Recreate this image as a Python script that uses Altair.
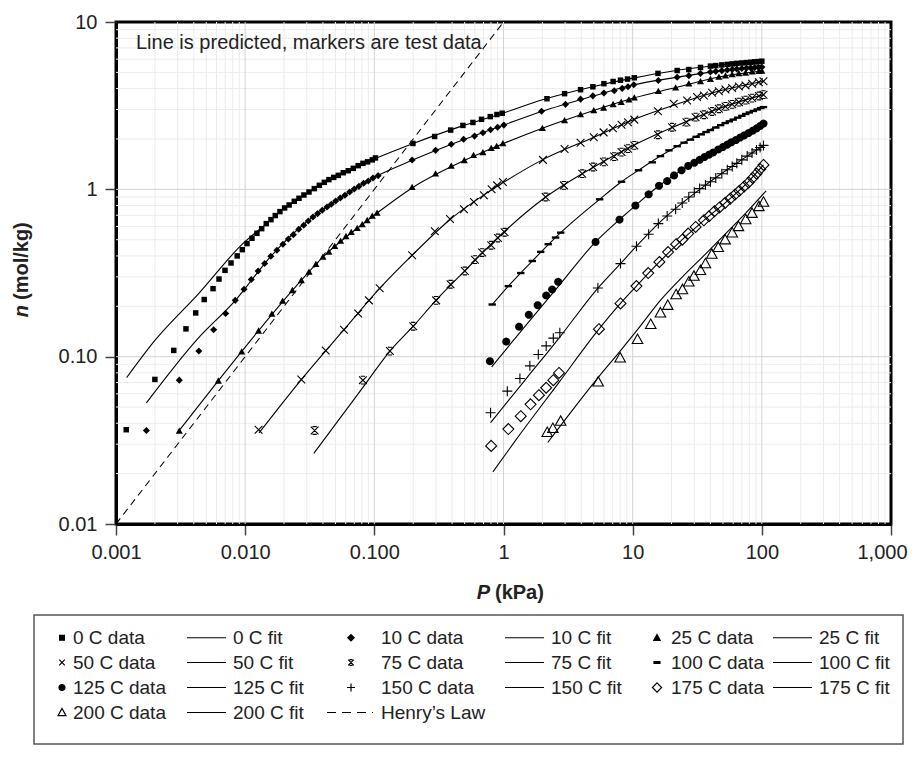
import math
import altair as alt
import pandas as pd

FONT = "Liberation Sans, Arial, Helvetica, sans-serif"
INK = "#222222"

# ---------------- axes / text ----------------
X_TICKS = [0.001, 0.01, 0.1, 1, 10, 100, 1000]
X_TICK_LABELS = ["0.001", "0.010", "0.100", "1", "10", "100", "1,000"]
Y_TICKS = [0.01, 0.1, 1, 10]
Y_TICK_LABELS = ["0.01", "0.10", "1", "10"]
X_GRID_MAJOR = [0.01, 0.1, 1, 10, 100]
Y_GRID_MAJOR = [0.1, 1]
X_GRID_MINOR = [m * 10.0 ** e for e in range(-3, 3) for m in range(2, 10)]
Y_GRID_MINOR = [m * 10.0 ** e for e in range(-2, 1) for m in range(2, 10)]

ANNOTATION = ["Line is predicted, markers are test data"]
X_TITLE_VAR, X_TITLE_UNIT = ["P"], ["(kPa)"]
Y_TITLE_VAR, Y_TITLE_UNIT = ["n"], ["(mol/kg)"]

# ---------------- data ----------------
P_0C = [0.0012, 0.0020, 0.0028, 0.00348, 0.00414, 0.00482, 0.00564, 0.00627, 0.00698, 0.00777, 0.00868, 0.0095,
        0.01033, 0.01129, 0.01234, 0.01342, 0.01457, 0.01584, 0.0171, 0.01858, 0.0202, 0.0219, 0.024, 0.0261,
        0.0285, 0.0312, 0.0343, 0.0375, 0.041, 0.0445, 0.0485, 0.0526, 0.0575, 0.0628, 0.0687, 0.075, 0.0816,
        0.0887, 0.0964, 0.102, 0.199, 0.293, 0.39, 0.485, 0.58, 0.676, 0.79, 0.889, 0.977, 2.17, 2.97, 3.95,
        4.92, 5.99, 7.06, 8.05, 9.12, 10.3, 15.7, 22.1, 27.2, 33.5, 40.0, 44.0, 49.0, 54.0, 59.0, 64.0, 70.0,
        76.0, 82.0, 88.0, 94.0, 100.0]
N_0C = [0.0366, 0.0731, 0.109, 0.1466, 0.1826, 0.2195, 0.255, 0.291, 0.328, 0.363, 0.400, 0.436, 0.474, 0.510,
        0.546, 0.582, 0.624, 0.659, 0.697, 0.736, 0.774, 0.806, 0.848, 0.884, 0.925, 0.964, 1.01, 1.057, 1.101,
        1.143, 1.179, 1.212, 1.257, 1.292, 1.335, 1.385, 1.43, 1.46, 1.50, 1.54, 1.88, 2.07, 2.26, 2.41, 2.51,
        2.62, 2.72, 2.80, 2.85, 3.48, 3.73, 3.94, 4.10, 4.28, 4.41, 4.49, 4.56, 4.64, 4.93, 5.13, 5.20, 5.35,
        5.45, 5.49, 5.54, 5.58, 5.62, 5.66, 5.69, 5.72, 5.75, 5.78, 5.80, 5.83]
P_0C_FIT = [0.00121, 0.002, 0.0044, 0.0095, 0.015, 0.02, 0.03, 0.05, 0.1, 0.2, 0.5, 1, 2, 5, 10, 20, 50, 100]
N_0C_FIT = [0.075, 0.125, 0.24, 0.47, 0.635, 0.77, 0.945, 1.20, 1.52, 1.88, 2.42, 2.86, 3.43, 4.12, 4.62, 5.08,
            5.55, 5.83]

P_10C = [0.00172, 0.00309, 0.00438, 0.0057, 0.00706, 0.00838, 0.0098, 0.01115, 0.0126, 0.01415, 0.0158, 0.0176,
         0.0196, 0.0216, 0.0236, 0.026, 0.0284, 0.0308, 0.0335, 0.0364, 0.0395, 0.043, 0.0464, 0.0502, 0.0545,
         0.0592, 0.0644, 0.0699, 0.076, 0.0826, 0.0897, 0.0976, 0.107, 0.196, 0.298, 0.394, 0.491, 0.597, 0.693,
         0.794, 0.9, 1.007, 1.97, 3.02, 3.95, 4.92, 5.99, 7.2, 8.3, 9.2, 10.2, 15.8, 22.1, 27.2, 33.5, 40, 44,
         49, 54, 59, 64, 70, 76, 82, 88, 94, 100]
N_10C = [0.0362, 0.0724, 0.108, 0.145, 0.181, 0.217, 0.253, 0.289, 0.325, 0.360, 0.398, 0.432, 0.47, 0.505,
         0.536, 0.577, 0.61, 0.647, 0.683, 0.716, 0.749, 0.784, 0.814, 0.852, 0.887, 0.921, 0.964, 1.004, 1.042,
         1.086, 1.121, 1.168, 1.207, 1.496, 1.71, 1.86, 1.99, 2.08, 2.18, 2.27, 2.35, 2.42, 2.93, 3.22, 3.46,
         3.62, 3.76, 3.88, 4.01, 4.10, 4.22, 4.47, 4.68, 4.78, 4.92, 5.02, 5.07, 5.12, 5.17, 5.21, 5.24, 5.27,
         5.30, 5.32, 5.34, 5.36, 5.38]
P_10C_FIT = [0.00172, 0.00425, 0.0084, 0.0158, 0.03, 0.05, 0.1, 0.2, 0.5, 1, 2, 5, 10, 20, 50, 100]
N_10C_FIT = [0.053, 0.127, 0.217, 0.398, 0.64, 0.85, 1.18, 1.5, 1.99, 2.42, 2.93, 3.62, 4.2, 4.62, 5.12, 5.38]

P_25C = [0.00309, 0.0062, 0.0094, 0.0127, 0.0161, 0.0195, 0.0232, 0.0272, 0.0312, 0.0353, 0.04, 0.0445, 0.0493,
         0.0548, 0.0603, 0.0663, 0.0737, 0.0806, 0.0881, 0.0964, 0.105, 0.196, 0.298, 0.394, 0.497, 0.586, 0.693,
         0.803, 0.885, 0.989, 2.0, 2.97, 3.95, 5.0, 5.96, 7.06, 8.15, 9.35, 10.3, 15.8, 21.5, 27.2, 33.5, 40,
         46.5, 52.3, 58.9, 66.4, 74.8, 84.2, 94.9, 100]
N_25C = [0.036, 0.0717, 0.107, 0.1426, 0.18, 0.215, 0.249, 0.286, 0.321, 0.357, 0.394, 0.422, 0.457, 0.491,
         0.524, 0.554, 0.585, 0.616, 0.653, 0.693, 0.722, 1.03, 1.24, 1.38, 1.49, 1.6, 1.66, 1.76, 1.81, 1.88,
         2.32, 2.58, 2.80, 2.96, 3.07, 3.22, 3.32, 3.43, 3.53, 3.86, 4.05, 4.28, 4.41, 4.56, 4.69, 4.77, 4.86,
         4.93, 4.97, 5.04, 5.08, 5.10]
P_25C_FIT = [0.00307, 0.0062, 0.0127, 0.0232, 0.04, 0.0737, 0.105, 0.2, 0.5, 1, 2, 5, 10, 20, 50, 100]
N_25C_FIT = [0.036, 0.072, 0.143, 0.249, 0.394, 0.585, 0.722, 1.03, 1.49, 1.88, 2.32, 2.96, 3.5, 4.0, 4.74, 5.1]

P_50C = [0.0127, 0.0272, 0.042, 0.0582, 0.075, 0.0908, 0.110, 0.196, 0.294, 0.385, 0.494, 0.59, 0.705, 0.809,
         0.893, 0.989, 2.02, 2.97, 3.95, 5.0, 5.96, 7.03, 8.2, 9.2, 10.3, 15.7, 20.8, 26.4, 31.5, 35.6, 41.2,
         46.5, 52.3, 58.9, 66.4, 74.8, 84.2, 94.9, 103]
N_50C = [0.0366, 0.0731, 0.109, 0.145, 0.181, 0.217, 0.256, 0.404, 0.561, 0.665, 0.76, 0.84, 0.921, 1.0, 1.056,
         1.106, 1.50, 1.74, 1.90, 2.05, 2.19, 2.32, 2.43, 2.52, 2.61, 2.93, 3.25, 3.40, 3.56, 3.64, 3.78, 3.86,
         3.95, 4.03, 4.12, 4.18, 4.28, 4.37, 4.43]
P_50C_FIT = [0.0128, 0.0272, 0.0582, 0.11, 0.2, 0.39, 1, 2, 5, 10, 20, 50, 103]
N_50C_FIT = [0.035, 0.073, 0.145, 0.256, 0.41, 0.665, 1.10, 1.50, 2.05, 2.6, 3.15, 3.92, 4.43]

P_75C = [0.0345, 0.0816, 0.132, 0.2, 0.301, 0.389, 0.502, 0.601, 0.684, 0.803, 0.906, 1.02, 2.12, 2.94, 4.07,
         4.94, 5.99, 7.2, 8.2, 9.2, 10.3, 15.7, 20.2, 26.1, 30.7, 35.6, 41.2, 46.5, 52.3, 58.9, 66.4, 74.8, 84.2,
         94.9, 103]
N_75C = [0.0362, 0.0724, 0.108, 0.152, 0.217, 0.271, 0.325, 0.38, 0.419, 0.463, 0.512, 0.554, 0.90, 1.056, 1.24,
         1.36, 1.46, 1.57, 1.67, 1.75, 1.83, 2.12, 2.35, 2.52, 2.70, 2.79, 2.92, 3.03, 3.13, 3.22, 3.32, 3.41,
         3.51, 3.61, 3.68]
P_75C_FIT = [0.034, 0.0816, 0.132, 0.2, 0.3, 0.5, 1, 2, 5, 10, 20, 50, 103]
N_75C_FIT = [0.0264, 0.0655, 0.108, 0.152, 0.217, 0.325, 0.554, 0.87, 1.36, 1.82, 2.33, 3.1, 3.68]

P_100C = [0.818, 1.09, 1.36, 1.67, 1.94, 2.22, 2.53, 2.77, 5.55, 8.2, 11.1, 14.2, 16.4, 19.1, 22.1, 25, 28, 31,
          34, 37, 40, 44, 48, 52, 56, 60, 65, 70, 75, 80, 86, 92, 98, 103]
N_100C = [0.205, 0.264, 0.316, 0.373, 0.423, 0.47, 0.515, 0.551, 0.872, 1.11, 1.30, 1.45, 1.58, 1.71, 1.81, 1.90,
          1.98, 2.06, 2.13, 2.20, 2.26, 2.34, 2.42, 2.49, 2.55, 2.61, 2.68, 2.75, 2.82, 2.88, 2.94, 3.00, 3.06,
          3.10]
P_100C_FIT = [0.81, 1.09, 1.67, 2.77, 5.55, 8.2, 11.1, 16.4, 22.1, 35, 50, 75, 103]
N_100C_FIT = [0.203, 0.264, 0.373, 0.551, 0.872, 1.11, 1.30, 1.58, 1.81, 2.17, 2.46, 2.82, 3.1]

P_125C = [0.785, 1.05, 1.32, 1.57, 1.84, 2.14, 2.38, 2.65, 5.16, 7.91, 10.5, 13.3, 16, 18.5, 20.9, 23.9, 26.9,
          30, 33, 36, 39, 42, 46, 50, 54, 58, 63, 68, 73, 79, 85, 91, 97, 103]
N_125C = [0.094, 0.123, 0.151, 0.178, 0.203, 0.232, 0.252, 0.28, 0.485, 0.659, 0.80, 0.933, 1.05, 1.12, 1.21,
          1.30, 1.38, 1.44, 1.50, 1.56, 1.61, 1.66, 1.73, 1.79, 1.85, 1.91, 1.97, 2.04, 2.10, 2.17, 2.24, 2.31,
          2.39, 2.47]
P_125C_FIT = [0.81, 1.5, 2.65, 5.16, 7.91, 10.5, 16, 26.9, 50, 75, 103]
N_125C_FIT = [0.087, 0.155, 0.262, 0.485, 0.66, 0.80, 1.05, 1.38, 1.80, 2.13, 2.47]

P_150C = [0.794, 1.07, 1.34, 1.60, 1.86, 2.14, 2.43, 2.73, 5.38, 8.05, 10.7, 13.3, 15.8, 18.5, 21.5, 24.2, 27.2,
          30, 33, 36.6, 40, 44, 49, 54, 59, 64, 70, 77, 84, 91, 97, 103]
N_150C = [0.0462, 0.0622, 0.0741, 0.0881, 0.103, 0.116, 0.129, 0.139, 0.257, 0.36, 0.457, 0.539, 0.624, 0.693,
          0.76, 0.828, 0.90, 0.96, 1.01, 1.06, 1.11, 1.17, 1.24, 1.31, 1.37, 1.43, 1.50, 1.58, 1.65, 1.72, 1.78,
          1.83]
P_150C_FIT = [0.794, 1.5, 2.73, 5.38, 8.05, 10.7, 15.8, 24.2, 36.6, 57, 77, 103]
N_150C_FIT = [0.0403, 0.074, 0.131, 0.257, 0.36, 0.457, 0.624, 0.828, 1.06, 1.35, 1.58, 1.83]

P_175C = [0.803, 1.09, 1.36, 1.62, 1.88, 2.14, 2.43, 2.69, 5.48, 8.05, 10.7, 13.2, 16.1, 18.8, 21.7, 24.2, 26.9,
          30.7, 35.6, 39, 43, 47, 52, 57, 62, 67, 73, 79, 85, 91, 97, 103]
N_175C = [0.0293, 0.0369, 0.0441, 0.0519, 0.0589, 0.0652, 0.0724, 0.08, 0.146, 0.208, 0.264, 0.316, 0.368, 0.422,
          0.47, 0.50, 0.544, 0.596, 0.653, 0.69, 0.74, 0.78, 0.83, 0.88, 0.93, 0.98, 1.04, 1.10, 1.17, 1.24, 1.32,
          1.40]
P_175C_FIT = [0.828, 1.24, 2.7, 5.48, 8.05, 10.7, 16.1, 24.2, 35.6, 52, 75, 103]
N_175C_FIT = [0.0205, 0.0316, 0.0705, 0.146, 0.208, 0.264, 0.368, 0.50, 0.653, 0.83, 1.07, 1.40]

P_200C = [2.18, 2.41, 2.77, 5.41, 8.0, 10.9, 13.8, 16.4, 18.7, 21.7, 24.3, 27.2, 29.8, 33.5, 36.6, 41, 46, 52,
          59, 66, 75, 84, 95, 103]
N_200C = [0.0353, 0.0373, 0.0412, 0.0707, 0.0984, 0.127, 0.156, 0.183, 0.203, 0.235, 0.252, 0.28, 0.303, 0.328,
          0.36, 0.41, 0.45, 0.50, 0.55, 0.60, 0.66, 0.72, 0.79, 0.84]
P_200C_FIT = [2.2, 5.4, 8.0, 10.9, 16.4, 24.3, 36.6, 52, 75, 108]
N_200C_FIT = [0.0307, 0.075, 0.108, 0.145, 0.217, 0.30, 0.41, 0.54, 0.72, 0.98]

P_HENRY = [0.001, 1.0]
N_HENRY = [0.01, 10.0]

TEMPS = ["0 C", "10 C", "25 C", "50 C", "75 C", "100 C", "125 C", "150 C", "175 C", "200 C"]
DATA_P = [P_0C, P_10C, P_25C, P_50C, P_75C, P_100C, P_125C, P_150C, P_175C, P_200C]
DATA_N = [N_0C, N_10C, N_25C, N_50C, N_75C, N_100C, N_125C, N_150C, N_175C, N_200C]
FIT_P = [P_0C_FIT, P_10C_FIT, P_25C_FIT, P_50C_FIT, P_75C_FIT, P_100C_FIT, P_125C_FIT, P_150C_FIT, P_175C_FIT,
         P_200C_FIT]
FIT_N = [N_0C_FIT, N_10C_FIT, N_25C_FIT, N_50C_FIT, N_75C_FIT, N_100C_FIT, N_125C_FIT, N_150C_FIT, N_175C_FIT,
         N_200C_FIT]
HENRY_LABEL = "Henry\u2019s Law"

# ---------------- marker styles ----------------
# shape, filled, plot size (px^2), legend half-size (legend units of 5 px)
STYLE = [("square", True, 30, 0.48), ("diamond", True, 50, 0.64), ("triangle", True, 50, 0.64),
         ("cross", False, 60, 0.56), ("asterisk", False, 60, 0.56), ("dash", True, 55, 0.6),
         ("circle", True, 64, 0.6), ("plus", False, 100, 0.8), ("diamond", False, 120, 0.92),
         ("triangle", False, 110, 0.8)]

BASE = {
    "square": [([(-1, -1), (1, -1), (1, 1), (-1, 1)], True)],
    "diamond": [([(0, -1), (1, 0), (0, 1), (-1, 0)], True)],
    "triangle": [([(0, -1), (1, 0.8), (-1, 0.8)], True)],
    "cross": [([(-1, -1), (1, 1)], False), ([(-1, 1), (1, -1)], False)],
    "asterisk": [([(-1, -1), (1, 1)], False), ([(-1, 1), (1, -1)], False),
                 ([(-0.55, -1), (0.55, -1)], False), ([(-0.55, 1), (0.55, 1)], False)],
    "dash": [([(-1, -0.32), (1, -0.32), (1, 0.32), (-1, 0.32)], True)],
    "circle": [([(math.cos(2 * math.pi * k / 24), math.sin(2 * math.pi * k / 24)) for k in range(24)], True)],
    "plus": [([(-1, 0), (1, 0)], False), ([(0, -1), (0, 1)], False)],
}


def shape_path(name, scale=1.0, dx=0.0):
    out = []
    for pts, closed in BASE[name]:
        seg = "M" + "L".join(f"{dx + scale * x:.3f},{scale * y:.3f}" for x, y in pts)
        out.append(seg + ("Z" if closed else ""))
    return "".join(out)


# legend geometry (legend units: symbolSize 100 -> 1 unit = 5 px)
COL_MARKER_DX = {0: 1.1, 2: -2.7, 4: 0.5}
COL_EXT = [25.0, 21.0, 27.0, 21.6, 22.6, 0.0]
ROW_EXTRA = {3: "M0,3.2"}
FIT_LINE = "M-5.9,0L1.9,0"
HENRY_DASHES = "M-7.5,0L-5.7,0M-4.5,0L-2.7,0M-1.5,0L0.3,0M1.5,0L1.7,0"

legend_labels, legend_paths, legend_fills = [], [], []
entries = []
for t, st in zip(TEMPS, STYLE):
    entries.append((f"{t} data", "data", st))
    entries.append((f"{t} fit", "fit", None))
entries.append((HENRY_LABEL, "henry", None))
for i, (lab, kind, st) in enumerate(entries):
    col, row = i % 6, i // 6
    if kind == "data":
        p = shape_path(st[0], st[3], COL_MARKER_DX[col])
        fill = "black" if st[1] else "transparent"
    elif kind == "fit":
        p = FIT_LINE
        fill = "transparent"
    else:
        p = HENRY_DASHES
        fill = "transparent"
    if COL_EXT[col] > 0:
        p += f"M{COL_EXT[col]},0"
    p += ROW_EXTRA.get(row, "")
    legend_labels.append(lab)
    legend_paths.append(p)
    legend_fills.append(fill)

# ---------------- scales & axes ----------------
xs = alt.Scale(type="log", domain=[0.001, 1000], nice=False)
ys = alt.Scale(type="log", domain=[0.01, 10], nice=False)

x_lab_expr = "[" + ",".join(f"'{s}'" for s in X_TICK_LABELS) + "][round(log(datum.value)/LN10)+3]"
y_lab_expr = "[" + ",".join(f"'{s}'" for s in Y_TICK_LABELS) + "][round(log(datum.value)/LN10)+2]"

AX_X = alt.Axis(values=X_TICKS, labelExpr=x_lab_expr, grid=False, orient="bottom", title=None,
                labelFont=FONT, labelFontSize=20, labelColor=INK, labelPadding=7, labelFlush=False,
                labelOverlap=False, tickSize=11, tickWidth=1.5, tickColor="#444",
                labelOffset={"condition": {"test": "datum.value > 500", "value": -9}, "value": 0},
                domain=True, domainColor="black", domainWidth=3)
AX_Y = alt.Axis(values=Y_TICKS, labelExpr=y_lab_expr, grid=False, orient="left", title=None,
                labelFont=FONT, labelFontSize=20, labelColor=INK, labelPadding=8, labelFlush=False,
                labelOverlap=False, tickSize=11, tickWidth=1.5, tickColor="#444",
                domain=True, domainColor="black", domainWidth=3)


def xy():
    return dict(x=alt.X("P:Q", scale=xs, axis=AX_X), y=alt.Y("n:Q", scale=ys, axis=AX_Y))


def frame(p, n):
    k = min(len(p), len(n))
    return pd.DataFrame({"P": p[:k], "n": n[:k]})


layers = []
# grid lines (minor then major) from the grid value lists
layers.append(alt.Chart(pd.DataFrame({"P": X_GRID_MINOR})).mark_rule(color="#ececec", strokeWidth=1).encode(
    x=alt.X("P:Q", scale=xs, axis=AX_X)))
layers.append(alt.Chart(pd.DataFrame({"n": Y_GRID_MINOR})).mark_rule(color="#ececec", strokeWidth=1).encode(
    y=alt.Y("n:Q", scale=ys, axis=AX_Y)))
layers.append(alt.Chart(pd.DataFrame({"P": X_GRID_MAJOR})).mark_rule(color="#d4d4d4", strokeWidth=1).encode(
    x=alt.X("P:Q", scale=xs, axis=AX_X)))
layers.append(alt.Chart(pd.DataFrame({"n": Y_GRID_MAJOR})).mark_rule(color="#d4d4d4", strokeWidth=1).encode(
    y=alt.Y("n:Q", scale=ys, axis=AX_Y)))

layers.append(alt.Chart(frame(P_HENRY, N_HENRY)).mark_line(
    color="black", strokeWidth=1.1, strokeDash=[7, 5], clip=True).encode(**xy()))
for i in range(len(TEMPS)):
    layers.append(alt.Chart(frame(FIT_P[i], FIT_N[i])).mark_line(
        color="black", strokeWidth=1.1, interpolate="monotone", clip=True).encode(**xy()))
for i in range(len(TEMPS)):
    shp, filled, size, _ = STYLE[i]
    if filled:
        mk = alt.Chart(frame(DATA_P[i], DATA_N[i])).mark_point(
            shape=shape_path(shp), size=size, filled=True, fill="black", strokeWidth=0, opacity=1, clip=True)
    else:
        mk = alt.Chart(frame(DATA_P[i], DATA_N[i])).mark_point(
            shape=shape_path(shp), size=size, filled=False, stroke="black", strokeWidth=1.1, opacity=1,
            clip=True)
    layers.append(mk.encode(**xy()))

# annotation and axis titles
layers.append(alt.Chart(pd.DataFrame({"t": ANNOTATION})).mark_text(
    align="left", baseline="middle", font=FONT, fontSize=20, color=INK).encode(
    text="t:N", x=alt.value(20), y=alt.value(21)))
layers.append(alt.Chart(pd.DataFrame({"t": Y_TITLE_UNIT})).mark_text(
    align="left", baseline="middle", angle=270, font=FONT, fontSize=20, fontWeight="bold", color=INK).encode(
    text="t:N", x=alt.value(-94), y=alt.value(278)))
layers.append(alt.Chart(pd.DataFrame({"t": Y_TITLE_VAR})).mark_text(
    align="right", baseline="middle", angle=270, font=FONT, fontSize=20, fontWeight="bold", fontStyle="italic",
    color=INK).encode(text="t:N", x=alt.value(-94), y=alt.value(283)))
layers.append(alt.Chart(pd.DataFrame({"t": X_TITLE_VAR})).mark_text(
    align="right", baseline="middle", font=FONT, fontSize=20, fontWeight="bold", fontStyle="italic",
    color=INK).encode(text="t:N", x=alt.value(374), y=alt.value(571)))
layers.append(alt.Chart(pd.DataFrame({"t": X_TITLE_UNIT})).mark_text(
    align="left", baseline="middle", font=FONT, fontSize=20, fontWeight="bold", color=INK).encode(
    text="t:N", x=alt.value(379), y=alt.value(571)))

# legend carrier (clipped away from the plot)
blacks = ["black"] * len(legend_labels)
layers.append(alt.Chart(pd.DataFrame({"series": legend_labels})).mark_point(
    size=100, opacity=1, strokeWidth=1.2, clip=True).encode(
    x=alt.value(-3000), y=alt.value(-3000),
    shape=alt.Shape("series:N", scale=alt.Scale(domain=legend_labels, range=legend_paths),
                    legend=alt.Legend(title=None)),
    fill=alt.Fill("series:N", scale=alt.Scale(domain=legend_labels, range=legend_fills),
                  legend=alt.Legend(title=None)),
    stroke=alt.Stroke("series:N", scale=alt.Scale(domain=legend_labels, range=blacks),
                      legend=alt.Legend(title=None))))

chart = alt.layer(*layers).properties(
    width=775, height=502, padding={"left": 4, "top": 4, "right": 0, "bottom": 0}
).configure_view(stroke="black", strokeWidth=3).configure_legend(
    orient="none", legendX=-82, legendY=593, direction="horizontal", columns=6, gridAlign="each",
    columnPadding=0, rowPadding=5, padding=13, symbolSize=100, symbolStrokeWidth=1.2,
    symbolStrokeColor="black", labelFont=FONT, labelFontSize=19, labelColor=INK, labelOffset=7,
    labelLimit=300, symbolLimit=50, strokeColor="#555555", strokeWidth=1.5
)

chart.save("out.html", embed_options={"renderer": "svg", "actions": False})
